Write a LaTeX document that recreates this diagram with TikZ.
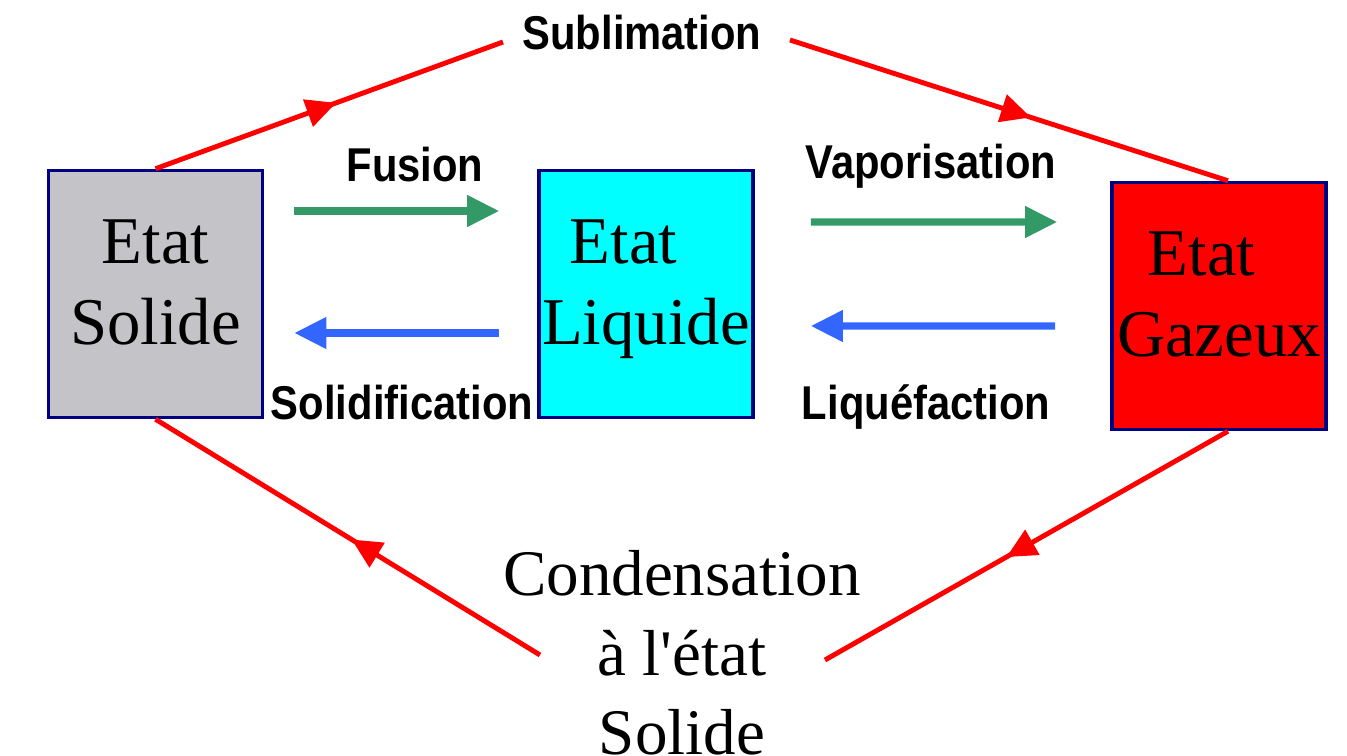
\documentclass[tikz,border=0pt]{standalone}
\usepackage{fontspec}
\setmainfont{Liberation Serif}
\newfontfamily\lblfont[FakeStretch=0.88]{Liberation Sans}
\usetikzlibrary{arrows.meta,decorations.markings}
\definecolor{boxblue}{RGB}{0,0,128}
\definecolor{solidgray}{RGB}{196,195,199}
\definecolor{liquidcyan}{RGB}{0,255,255}
\definecolor{gasred}{RGB}{255,0,0}
\definecolor{flowgreen}{RGB}{51,153,102}
\definecolor{flowblue}{RGB}{51,102,255}

\begin{document}
\begin{tikzpicture}[
  statebox/.style={draw=boxblue, line width=1pt, minimum width=2.14cm, minimum height=2.47cm,
    inner sep=0pt, align=center, font=\fontsize{19}{23}\selectfont},
  lbl/.style={font=\lblfont\bfseries\fontsize{13.5}{16}\selectfont, anchor=base, inner sep=0pt},
  flow/.style={line width=2pt, -{Triangle[length=0.32cm,width=0.30cm]}},
  change/.style={gasred, line width=1.4pt, postaction={decorate},
    decoration={markings, mark=at position #1 with {\arrow{Triangle[length=0.30cm,width=0.28cm]}}}}
]
  \useasboundingbox (0,0) rectangle (13.47,7.56);
  % the three states
  \node[statebox, fill=solidgray] (solide) at (1.555,4.62) {Etat\\Solide\strut};
  \node[statebox, fill=liquidcyan] (liquide) at (6.46,4.62) {Etat\hspace*{0.45cm}\\Liquide\strut};
  \node[statebox, fill=gasred] (gazeux) at (12.19,4.50) {Etat\hspace*{0.35cm}\\Gazeux\strut};
  % labels
  \node[lbl] (sublim) at (6.42,7.06) {Sublimation};
  \node[lbl] (fus) at (4.15,5.74) {Fusion};
  \node[lbl] (solidif) at (4.02,3.36) {Solidification};
  \node[lbl] (vapo) at (9.31,5.77) {Vaporisation};
  \node[lbl] (liquef) at (9.26,3.36) {Liquéfaction};
  \node[font=\fontsize{18.5}{22.6}\selectfont, align=center, anchor=north, inner sep=0pt] (conden)
    at (6.82,2.06) {Condensation\\à l\textquotesingle état\\Solide};
  % free ends of the red lines
  \coordinate (sublW) at (5.03,7.14);
  \coordinate (sublE) at (7.90,7.16);
  \coordinate (condW) at (5.40,1.01);
  \coordinate (condE) at (8.25,0.96);
  % liquid <-> solid, gas <-> liquid
  \draw[flow, flowgreen, shorten <=0.30cm, shorten >=0.38cm] ([yshift=0.83cm]solide.east) -- ([yshift=0.83cm]liquide.west);
  \draw[flow, flowblue, shorten <=0.38cm, shorten >=0.30cm] ([yshift=-0.39cm]liquide.west) -- ([yshift=-0.39cm]solide.east);
  \draw[flow, flowgreen, shorten <=0.56cm, shorten >=0.53cm] ([yshift=0.72cm]liquide.east) -- ([yshift=0.84cm]gazeux.west);
  \draw[flow, flowblue, shorten <=0.55cm, shorten >=0.56cm] ([yshift=-0.20cm]gazeux.west) -- ([yshift=-0.32cm]liquide.east);
  % solid <-> gas
  \draw[change=0.52] (solide.north) -- (sublW);
  \draw[change=0.55] (sublE) -- ([xshift=0.09cm]gazeux.north);
  \draw[change=0.55] ([xshift=0.09cm]gazeux.south) -- (condE);
  \draw[change=0.49] (condW) -- (solide.south);
\end{tikzpicture}
\end{document}
